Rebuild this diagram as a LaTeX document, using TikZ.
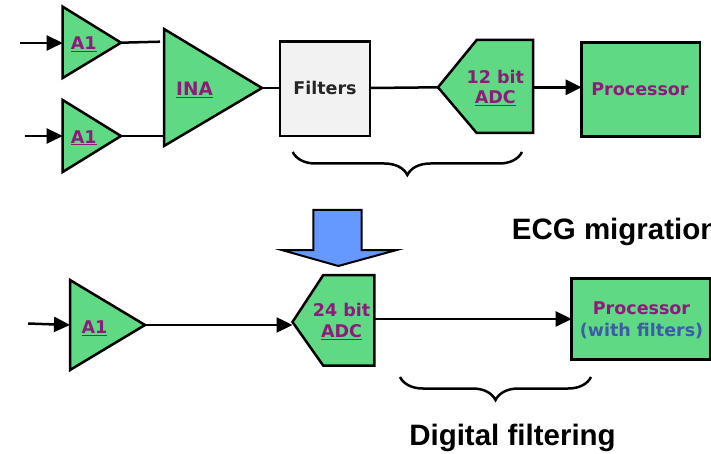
\documentclass[tikz,border=0pt]{standalone}
\usepackage{fontspec}
\setmainfont{DejaVu Sans}
\newfontfamily\captionfont{Liberation Sans}
\usetikzlibrary{arrows.meta,decorations.pathreplacing}

\definecolor{ampgreen}{HTML}{5FD984}
\definecolor{labpurple}{HTML}{8E1B7C}
\definecolor{labblue}{HTML}{3D5BAA}
\definecolor{filtgray}{HTML}{F2F2F2}
\definecolor{downblue}{HTML}{6699FF}

\begin{document}
\begin{tikzpicture}[x=1pt, y=-1pt,
  block/.style={draw=black, line width=2.5pt, fill=ampgreen, line join=miter},
  lab/.style={font=\fontsize{17.5}{20}\selectfont\bfseries, text=labpurple, inner sep=0pt, anchor=base},
  wire/.style={line width=2.5pt},
  sig/.style={wire, -{Triangle[length=16pt,width=15pt]}},
  curly/.style={line width=2.5pt, decorate, decoration={brace, mirror, amplitude=23pt}},
  caption/.style={font=\captionfont\fontsize{29.5}{32}\selectfont\bfseries, inner sep=0pt, anchor=base}
]

  \useasboundingbox (0,0) rectangle (711,454);
  \clip (0,0) rectangle (711,454);

  % --- analog chain (top) ---
  \draw[block] (62.7,6.7) -- (121,42.7) coordinate (a1up) -- (62.7,78) -- cycle;
  \draw[block] (62.7,100) -- (121,136) coordinate (a1lo) -- (62.7,172) -- cycle;
  \draw[block] (164,29) -- (262,88) coordinate (ina) -- (164,146) -- cycle;
  \node[lab] (a1uplab) at (83.7,50) {\underline{A1}};
  \node[lab] (a1lolab) at (83.7,143.3) {\underline{A1}};
  \node[lab, font=\fontsize{18.5}{20}\selectfont\bfseries] (inalab) at (194.5,95.7) {\underline{INA}};

  \coordinate (a1upin) at (62.7,43);
  \coordinate (a1loin) at (62.7,136);
  \coordinate (inaupin) at (160,41.7);
  \coordinate (inaloin) at (164,136);
  \coordinate (srcup) at (20,43);
  \coordinate (srclo) at (25,136);

  \draw[block, fill=filtgray] (280,41.7) rectangle (370,136);
  \coordinate (filtin) at (280,88);
  \coordinate (filtout) at (370,88);
  \node[lab, text=black!85] (filtlab) at (325,95) {Filters};

  \draw[block] (438,87.3) coordinate (adcain) -- (476.7,40) -- (533,40) -- (533,133) -- (476.7,133) -- cycle;
  \coordinate (adcaout) at (533,87.3);
  \node[lab] (adcabit) at (495.3,83.3) {12 bit};
  \node[lab] (adcalab) at (495.3,104) {\underline{ADC}};

  \draw[block] (581.7,42.7) rectangle (700,136.7);
  \coordinate (procain) at (581.7,87.3);
  \node[lab] (procalab) at (640,95.7) {Processor};

  \draw[sig] (srcup) -- (a1upin);
  \draw[sig] (srclo) -- (a1loin);
  \draw[wire] (a1up) -- (inaupin);
  \draw[wire] (a1lo) -- (inaloin);
  \draw[wire] (ina) -- (filtin);
  \draw[wire] (filtout) -- (adcain);
  \draw[sig] (adcaout) -- (procain);

  \draw[curly] (292.7,152) -- (522,152);

  % --- migration arrow ---
  \draw[line width=2pt, fill=downblue, line join=miter]
    (313.3,210) -- (361.7,210) -- (361.7,250) -- (396.7,250)
    -- (338.3,266) -- (281.7,250) -- (313.3,250) -- cycle;
  \node[caption, anchor=base west] (ecg) at (511.7,240) {ECG migration};

  % --- digital chain (bottom) ---
  \draw[block] (70,280) -- (145,325) coordinate (a1c) -- (70,370) -- cycle;
  \coordinate (a1cin) at (70,325);
  \coordinate (srcc) at (28,323.5);
  \node[lab] (a1clab) at (94.5,333.3) {\underline{A1}};

  \draw[block] (292.5,322) coordinate (adcbin) -- (323.3,275) -- (374.3,275) -- (374.3,365.7) -- (323.3,365.7) -- cycle;
  \coordinate (adcbout) at (374.3,319);
  \node[lab] (adcbbit) at (341.5,316.7) {24 bit};
  \node[lab] (adcblab) at (341.5,337.7) {\underline{ADC}};

  \draw[block] (571.7,278.3) rectangle (710,359.3);
  \coordinate (procbin) at (571.7,319);
  \node[lab] (procblab) at (641.5,314) {Processor};
  \node[lab, text=labblue] (procbsub) at (641.5,336.7) {(with filters)};

  \draw[sig] (srcc) -- (a1cin);
  \draw[sig] (a1c) -- (a1c -| adcbin);
  \draw[sig] (adcbout) -- (procbin);

  \draw[curly] (400,377) -- (591,377);
  \node[caption] (digital) at (512.5,445) {Digital filtering};

\end{tikzpicture}
\end{document}
